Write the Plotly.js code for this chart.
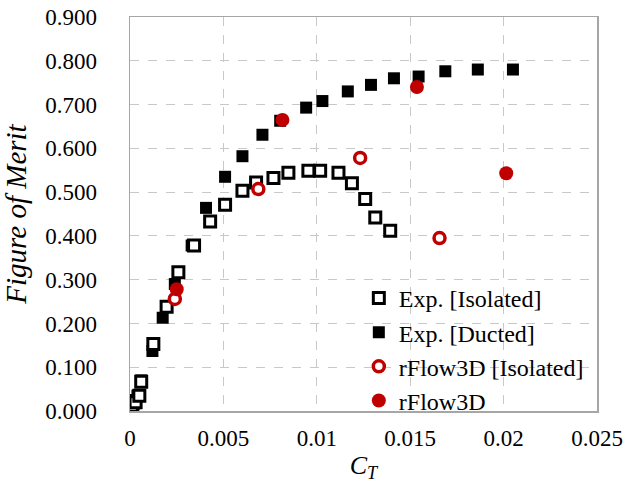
<!DOCTYPE html>
<html>
<head>
<meta charset="utf-8">
<script src="https://cdn.plot.ly/plotly-3.0.1.min.js"></script>
<style>html,body{margin:0;padding:0;background:#fff;}#chart{width:628px;height:483px;}</style>
</head>
<body>
<div id="chart"></div>
<script>
// Exp. [Isolated] (open black squares)
const expIsoCT = [0.0001, 0.0003, 0.0005, 0.0006, 0.00125, 0.00196, 0.00259, 0.00343, 0.00429, 0.00509, 0.00602, 0.00675, 0.00768, 0.00848, 0.00955, 0.01018, 0.01116, 0.01188, 0.01259, 0.01313, 0.01393];
const expIsoFM = [0.012, 0.020, 0.035, 0.067, 0.153, 0.238, 0.317, 0.378, 0.433, 0.471, 0.503, 0.522, 0.532, 0.544, 0.549, 0.549, 0.544, 0.520, 0.484, 0.442, 0.412];
// Exp. [Ducted] (filled black squares)
const expDucCT = [0.00005, 0.0002, 0.0003, 0.0004, 0.0006, 0.0012, 0.00175, 0.0024, 0.0033, 0.00407, 0.00509, 0.00602, 0.00709, 0.00804, 0.00943, 0.0103, 0.01166, 0.0129, 0.01413, 0.01545, 0.01688, 0.01862, 0.0205];
const expDucFM = [0.008, 0.015, 0.025, 0.035, 0.070, 0.137, 0.213, 0.290, 0.378, 0.464, 0.535, 0.582, 0.631, 0.663, 0.693, 0.708, 0.730, 0.745, 0.760, 0.764, 0.776, 0.780, 0.780];
// rFlow3D [Isolated] (open red circles)
const rfIsoCT = [0.0024, 0.00687, 0.01232, 0.01657];
const rfIsoFM = [0.256, 0.507, 0.578, 0.395];
// rFlow3D (filled red circles)
const rfDucCT = [0.0025, 0.00816, 0.01536, 0.02014];
const rfDucFM = [0.278, 0.665, 0.740, 0.543];

const xTickVals = [0, 0.005, 0.01, 0.015, 0.02, 0.025];
const xTickText = ['0', '0.005', '0.01', '0.015', '0.02', '0.025'];
const yTickVals = [0, 0.1, 0.2, 0.3, 0.4, 0.5, 0.6, 0.7, 0.8, 0.9];
const yTickText = ['0.000', '0.100', '0.200', '0.300', '0.400', '0.500', '0.600', '0.700', '0.800', '0.900'];

const FONT = 'Liberation Serif, Times New Roman, serif';
const RED = '#c00000';

const traces = [
  {x: expDucCT, y: expDucFM, name: 'Exp. [Ducted]', type: 'scatter', mode: 'markers', legendrank: 2,
   marker: {symbol: 'square', size: 12, color: '#000000', line: {width: 0}}},
  {x: expIsoCT, y: expIsoFM, name: 'Exp. [Isolated]', type: 'scatter', mode: 'markers', legendrank: 1,
   marker: {symbol: 'square', size: 11, color: '#ffffff', line: {width: 3, color: '#000000'}}},
  {x: rfIsoCT, y: rfIsoFM, name: 'rFlow3D [Isolated]', type: 'scatter', mode: 'markers', legendrank: 3,
   marker: {symbol: 'circle', size: 11, color: '#ffffff', line: {width: 3.5, color: RED}}},
  {x: rfDucCT, y: rfDucFM, name: 'rFlow3D', type: 'scatter', mode: 'markers', legendrank: 4,
   marker: {symbol: 'circle', size: 14, color: RED, line: {width: 0}}}
];

const layout = {
  width: 628, height: 483,
  margin: {l: 130, r: 31, t: 17, b: 72, pad: 0},
  paper_bgcolor: '#ffffff', plot_bgcolor: '#ffffff',
  font: {family: FONT, size: 22, color: '#000000'},
  showlegend: true,
  legend: {x: 0.49, y: 0.343, xanchor: 'left', yanchor: 'top', bgcolor: 'rgba(0,0,0,0)',
           font: {family: FONT, size: 24, color: '#000000'}, traceorder: 'normal'},
  xaxis: {
    range: [0, 0.025], tickvals: xTickVals, ticktext: xTickText,
    showgrid: true, gridcolor: '#c8c8c8', griddash: 'dash', gridwidth: 1,
    zeroline: false, showline: true, linecolor: '#a6a6a6', linewidth: 1.5, mirror: true,
    ticks: '', ticklabelstandoff: 6,
    tickfont: {family: FONT, size: 23, color: '#000000'},
    title: {text: '<i>C<sub>T</sub></i>', font: {family: FONT, size: 26, color: '#000000'}, standoff: 6}
  },
  yaxis: {
    range: [0, 0.9], tickvals: yTickVals, ticktext: yTickText,
    showgrid: true, gridcolor: '#c8c8c8', griddash: 'dash', gridwidth: 1,
    zeroline: false, showline: true, linecolor: '#a6a6a6', linewidth: 1.5, mirror: true,
    ticks: '', ticklabelstandoff: 27,
    tickfont: {family: FONT, size: 23, color: '#000000'},
    title: {text: '<i>Figure of Merit</i>', font: {family: FONT, size: 29, color: '#000000'}, standoff: 13}
  }
};

Plotly.newPlot('chart', traces, layout, {displayModeBar: false, staticPlot: true});
</script>
</body>
</html>
